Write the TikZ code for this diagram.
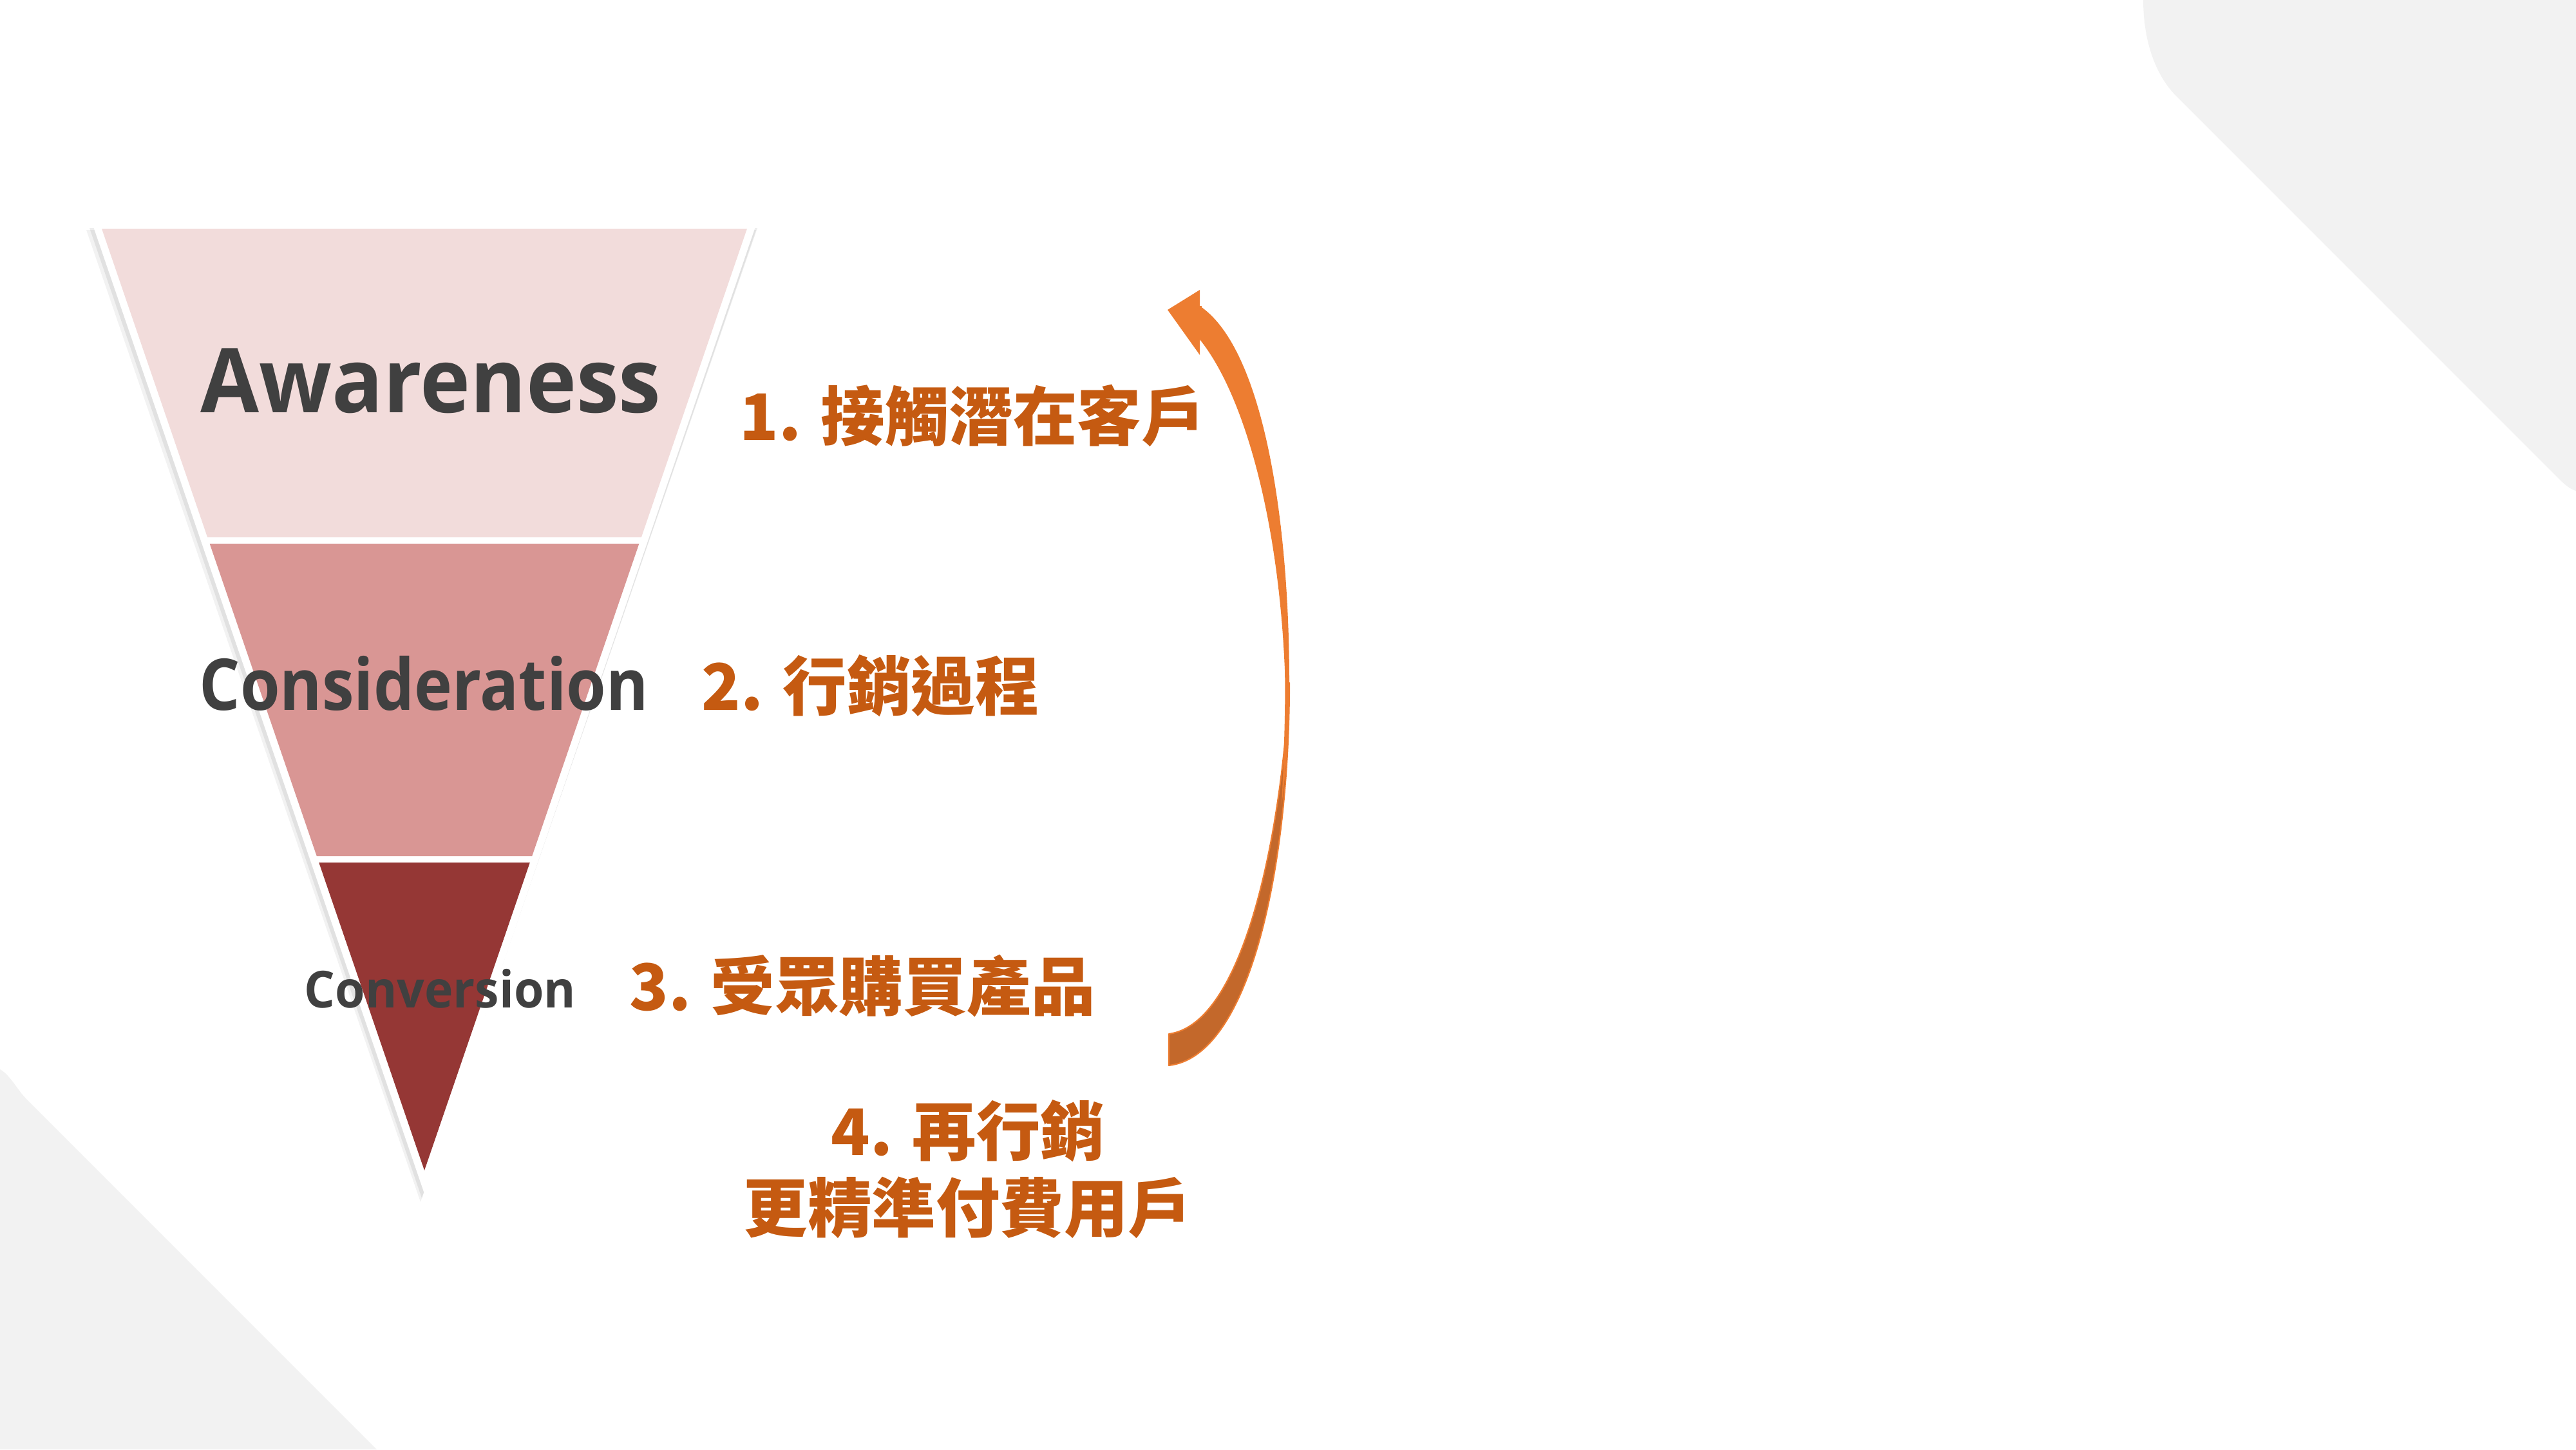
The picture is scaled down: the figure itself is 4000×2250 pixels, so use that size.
\documentclass[tikz,border=0pt]{standalone}
\usepackage{fontspec}
\newfontfamily\enfont{Open Sans}
\newfontfamily\cjk{Noto Sans CJK TC}
\definecolor{bggray}{HTML}{F2F2F2}
\definecolor{bandA}{HTML}{F2DCDB}
\definecolor{bandB}{HTML}{D99694}
\definecolor{bandC}{HTML}{953735}
\definecolor{txtgray}{HTML}{404040}
\definecolor{txtorange}{HTML}{C55A11}
\definecolor{arrowlight}{HTML}{ED7D31}
\definecolor{arrowdark}{HTML}{C3682B}
\tikzset{
  entext/.style={inner sep=0pt, text=txtgray, anchor=base west},
  cjktext/.style={inner sep=0pt, text=txtorange, font=\cjk\bfseries\fontsize{28.3}{34.1}\selectfont},
}
\begin{document}
\begin{tikzpicture}[x=0.01cm,y=-0.01cm]
\useasboundingbox (0,0) rectangle (4000,2250);
% background decorations
\fill[bggray] (3328,0) .. controls (3328,60) and (3345,115) .. (3380,150) -- (3973,743) .. controls (3985,755) and (3993,760) .. (4000,762) -- (4000,0) -- cycle;
\fill[bggray] (0,1660) .. controls (15,1668) and (28,1693) .. (40,1705) -- (585,2250) -- (0,2250) -- cycle;
% funnel shadow
\fill[black, opacity=0.05] (134,357) -- (1174,357) -- (653,1866) -- cycle;
\fill[black, opacity=0.07] (139,354) -- (1176,354) -- (655,1860) -- cycle;
% funnel outline
\fill[white] (144,349) -- (1174,349) -- (659,1853) -- cycle;
% bands
\fill[bandA] (158.0,355) -- (1160.0,355) -- (995.9,834) -- (322.1,834) -- cycle;
\fill[bandB] (325.6,844) -- (992.4,844) -- (826.2,1329) -- (491.8,1329) -- cycle;
\fill[bandC] (495.2,1339) -- (822.8,1339) -- (659,1817) -- cycle;
% funnel labels
\node[entext, font=\enfont\bfseries\fontsize{39.5}{48}\selectfont] (aw) at (311,640) {\scalebox{0.95}[1]{Awareness}};
\node[entext, font=\enfont\bfseries\fontsize{31.5}{38}\selectfont] (co) at (309,1102) {\scalebox{0.9}[1]{Consideration}};
\node[entext, font=\enfont\bfseries\fontsize{22.5}{27}\selectfont] (cv) at (472,1564) {\scalebox{0.95}[1]{Conversion}};
% step labels
\node[cjktext, anchor=west] (s1) at (1148,645) {1. 接觸潛在客戶};
\node[cjktext, anchor=west] (s2) at (1089,1065) {2. 行銷過程};
\node[cjktext, anchor=west] (s3) at (977,1531) {3. 受眾購買產品};
\node[cjktext, align=center] (s4) at (1503,1815) {4. 再行銷\\更精準付費用戶};
% curved arrow: back (dark) face
\fill[arrowdark, draw=arrowlight, line width=0.6pt, line join=round]
  (2002,1060) .. controls (2002,1350) and (1940,1640) .. (1815,1654)
  -- (1815,1605) .. controls (1930,1590) and (1990,1300) .. (2002,1060) -- cycle;
% curved arrow: front (light) face
\fill[arrowlight]
  (1863,475) .. controls (1960,540) and (2002,800) .. (2002,1060)
  .. controls (2002,1130) and (1998,1190) .. (1990,1250)
  .. controls (1995,1150) and (1996,1080) .. (1995,1040)
  .. controls (1985,800) and (1930,610) .. (1863,527) -- cycle;
\fill[arrowlight] (1863,450) -- (1813,481) -- (1863,551) -- cycle;
\fill[arrowlight] (1858,475) rectangle (1866,527);
\end{tikzpicture}
\end{document}
